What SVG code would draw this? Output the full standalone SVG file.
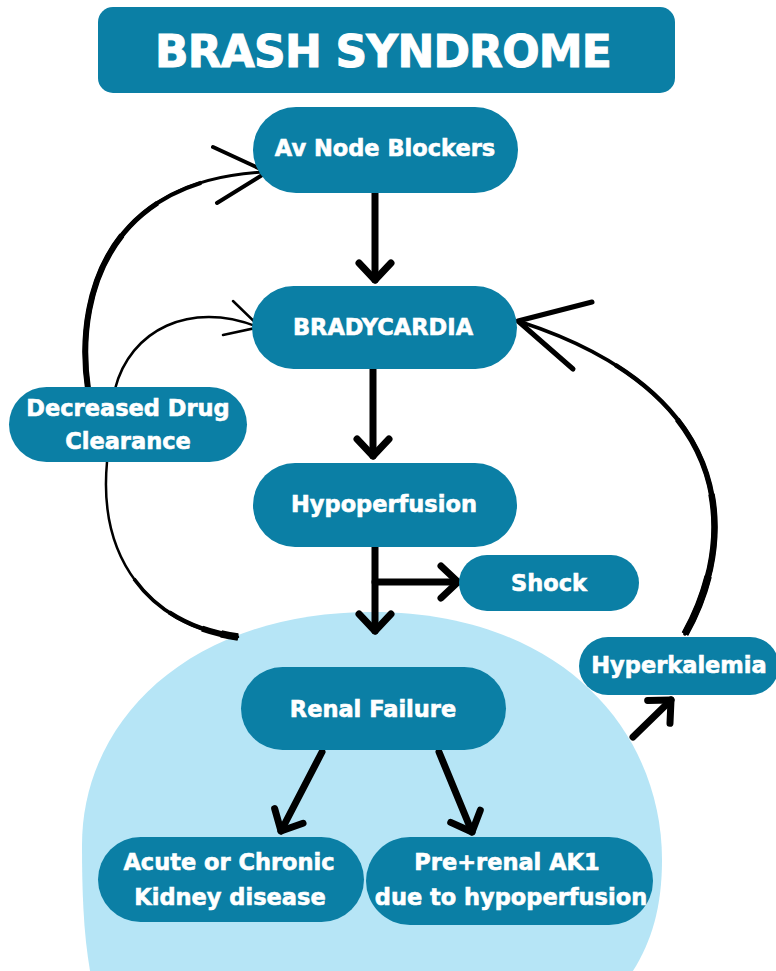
<svg xmlns="http://www.w3.org/2000/svg" width="776" height="971" viewBox="0 0 776 971">
<style>
.box{fill:#0b7fa5}
.t{font-family:"DejaVu Sans","Liberation Sans",sans-serif;font-weight:bold;font-size:22.5px;fill:#fff;stroke:#fff;stroke-width:0.6px;text-anchor:middle}
.title{font-size:44px;letter-spacing:-0.8px;stroke-width:1px}
.ln{fill:none;stroke:#000;stroke-linecap:round;stroke-linejoin:round}
.ov{fill:none;stroke:#000;stroke-linecap:butt}
.arr{stroke-width:7;marker-end:url(#chev)}
</style>
<defs>
<marker id="chev" markerUnits="userSpaceOnUse" markerWidth="60" markerHeight="60" viewBox="-30 -30 60 60" refX="0" refY="0" orient="auto" overflow="visible">
<path d="M-17,-16 L0,0 L-17,16" fill="none" stroke="#000" stroke-width="7" stroke-linecap="round" stroke-linejoin="round"/>
</marker>
<path id="cL" d="M88,389 C75,300 105,180 265,172"/>
<path id="cD" d="M107,462 C98,560 150,625 238,637"/>
<path id="cR" d="M685,634 C735,545 745,395 521,322"/>
</defs>
<rect width="776" height="971" fill="#fff"/>
<path id="kidney-zone" d="M82,845 C82,720 190,612 372,612 C560,612 662,730 662,860 C662,920 645,960 615,995 L95,995 C84,950 82,900 82,845 Z" fill="#b6e5f6"/>
<g id="connectors">
<line class="ln arr" x1="375" y1="193" x2="375" y2="280"/>
<line class="ln arr" x1="373" y1="369" x2="373" y2="456"/>
<line class="ln arr" x1="375" y1="547" x2="375" y2="631"/>
<line class="ln arr" x1="375" y1="582" x2="458" y2="582"/>
<line class="ln arr" x1="322" y1="752" x2="281" y2="831"/>
<line class="ln arr" x1="439" y1="752" x2="472" y2="832"/>
<line class="ln arr" x1="633" y1="737" x2="671" y2="700"/>
<path class="ln" stroke-width="3" d="M88,389 C75,300 105,180 265,172"/>
<path class="ov" stroke-width="4" pathLength="100" stroke-dasharray="80 20" d="M88,389 C75,300 105,180 265,172"/>
<path class="ov" stroke-width="5" pathLength="100" stroke-dasharray="65 35" d="M88,389 C75,300 105,180 265,172"/>
<path class="ov" stroke-width="6" pathLength="100" stroke-dasharray="50 50" d="M88,389 C75,300 105,180 265,172"/>
<path class="ln" stroke-width="4" d="M213,147 L267,172 L217,203"/>
<path class="ln" stroke-width="2.5" d="M115,389 C130,330 190,300 258,327"/>
<path class="ln" stroke-width="2.5" d="M233,301 L260,327 L223,335"/>
<path class="ln" stroke-width="2.5" d="M107,462 C98,560 150,625 238,637"/>
<path class="ov" stroke-width="3.5" pathLength="100" stroke-dasharray="50 50" stroke-dashoffset="50" d="M107,462 C98,560 150,625 238,637"/>
<path class="ov" stroke-width="4.5" pathLength="100" stroke-dasharray="30 70" stroke-dashoffset="30" d="M107,462 C98,560 150,625 238,637"/>
<path class="ov" stroke-width="6" pathLength="100" stroke-dasharray="15 85" stroke-dashoffset="15" d="M107,462 C98,560 150,625 238,637"/>
<path class="ov" stroke-width="7.5" pathLength="100" stroke-dasharray="7 93" stroke-dashoffset="7" d="M107,462 C98,560 150,625 238,637"/>
<path class="ln" stroke-width="3.5" d="M685,634 C735,545 745,395 521,322"/>
<path class="ov" stroke-width="4.5" pathLength="100" stroke-dasharray="75 25" d="M685,634 C735,545 745,395 521,322"/>
<path class="ov" stroke-width="5.5" pathLength="100" stroke-dasharray="55 45" d="M685,634 C735,545 745,395 521,322"/>
<path class="ov" stroke-width="6.5" pathLength="100" stroke-dasharray="35 65" d="M685,634 C735,545 745,395 521,322"/>
<path class="ov" stroke-width="7.5" pathLength="100" stroke-dasharray="15 85" d="M685,634 C735,545 745,395 521,322"/>
<path class="ln" stroke-width="5" d="M592,302 L518,321 L573,369"/>
</g>
<g id="title"><rect class="box" x="98" y="7" width="577" height="86" rx="15"/><text class="t title" x="383" y="67">BRASH SYNDROME</text></g>
<g id="av-node-blockers"><rect class="box" x="253" y="107" width="265" height="86" rx="43"/><text class="t" x="385" y="156">Av Node Blockers</text></g>
<g id="bradycardia"><rect class="box" x="252" y="286" width="265" height="83" rx="41.5"/><text class="t" x="383" y="335">BRADYCARDIA</text></g>
<g id="hypoperfusion"><rect class="box" x="253" y="463" width="264" height="84" rx="42"/><text class="t" x="384" y="512">Hypoperfusion</text></g>
<g id="shock"><rect class="box" x="459" y="555" width="180" height="56" rx="28"/><text class="t" x="549" y="591">Shock</text></g>
<g id="decreased-drug-clearance"><rect class="box" x="9" y="387" width="238" height="75" rx="37.5"/><text class="t" x="128" y="416">Decreased Drug</text><text class="t" x="128" y="449">Clearance</text></g>
<g id="renal-failure"><rect class="box" x="241" y="667" width="265" height="83" rx="41.5"/><text class="t" x="373" y="717">Renal Failure</text></g>
<g id="hyperkalemia"><rect class="box" x="579" y="637" width="200" height="58" rx="29"/><text class="t" x="679" y="673">Hyperkalemia</text></g>
<g id="acute-or-chronic"><rect class="box" x="98" y="837" width="266" height="85" rx="42.5"/><text class="t" x="229" y="870">Acute or Chronic</text><text class="t" x="230" y="905">Kidney disease</text></g>
<g id="prerenal-aki"><rect class="box" x="366" y="837" width="287" height="88" rx="44"/><text class="t" x="507" y="870">Pre+renal AK1</text><text class="t" x="511" y="905">due to hypoperfusion</text></g>
</svg>
